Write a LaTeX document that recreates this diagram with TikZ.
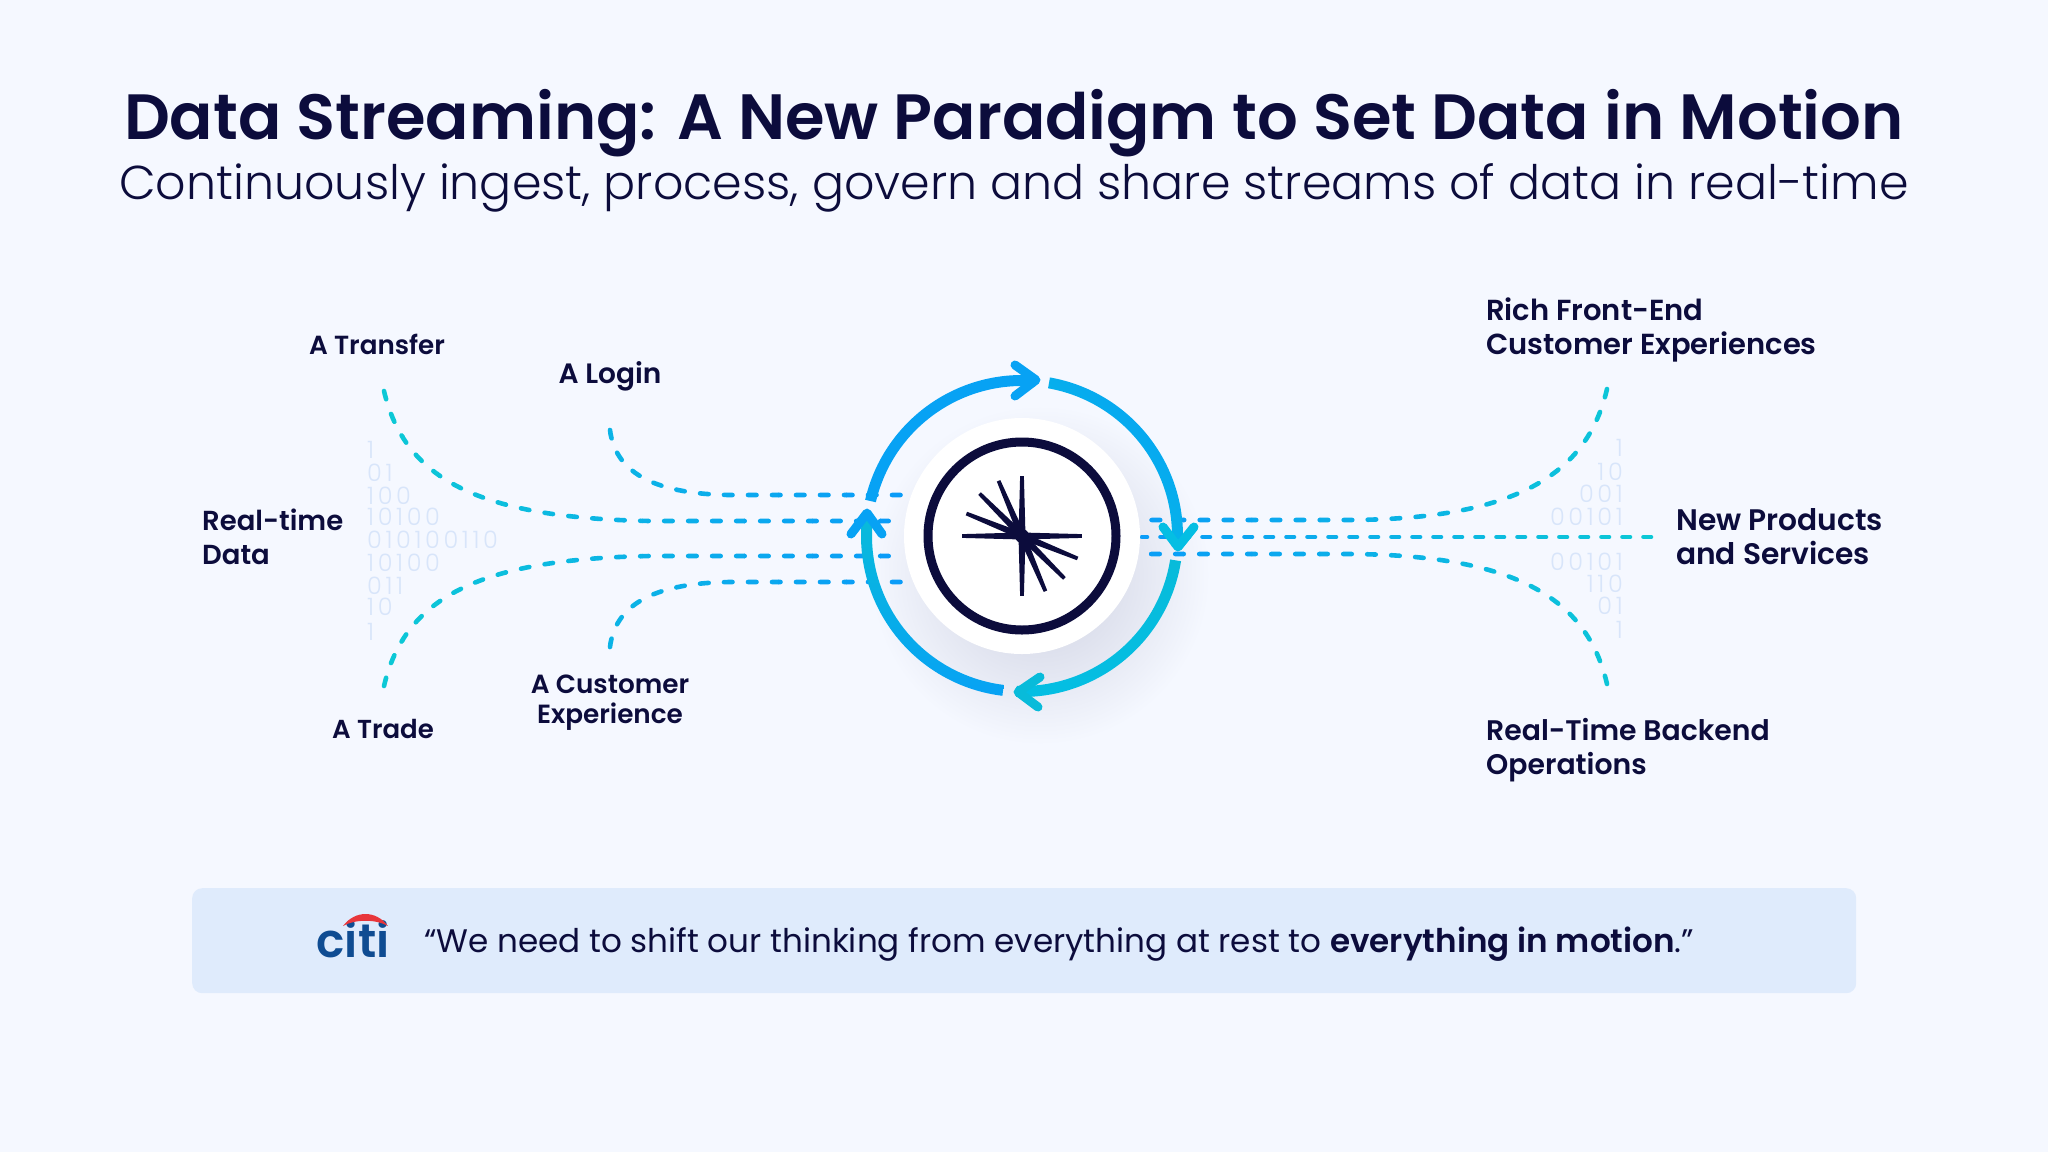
\documentclass[tikz,border=0pt]{standalone}
\usepackage{fontspec}
\setmainfont{Poppins}[BoldFont={Poppins SemiBold}]
\newfontfamily\lightfont{Poppins Light}
\newfontfamily\semifont{Poppins SemiBold}
\newfontfamily\bitfont{Poppins Light}[LetterSpace=15]
\usetikzlibrary{positioning}
\usetikzlibrary{calc}
\definecolor{pagebg}{HTML}{F5F8FF}
\definecolor{ink}{HTML}{0C0C3C}
\definecolor{quotebg}{HTML}{DFEBFC}
\definecolor{bitcol}{HTML}{D8E5FA}
\definecolor{flowblue}{HTML}{0A9CF8}
\definecolor{flowcyan}{HTML}{0CC8D6}
\definecolor{ringa}{HTML}{07A2F4}
\definecolor{ringb}{HTML}{04BEE3}
\definecolor{ringc}{HTML}{08BBDA}
\definecolor{shadowcol}{HTML}{CBCEDF}
\definecolor{citiblue}{HTML}{0F4C92}
\definecolor{citired}{HTML}{E8363B}
\tikzset{
  lbl/.style={text=ink, inner sep=0pt, font=\semifont\fontsize{#1}{34}\selectfont},
  bit/.style={text=bitcol, inner sep=0pt, font=\bitfont\fontsize{24}{24}\selectfont},
  flow/.style={line width=4.6pt, line cap=round, dash pattern=on 8.5pt off 15.5pt},
  midflow/.style={line width=4.6pt, line cap=round, dash pattern=on 7.5pt off 13.5pt},
  chev/.style={line width=9pt, line cap=round, line join=round},
}
% annular piece of the ring: start, end, first colour, second colour, shading angle
\newcommand{\ringarc}[5]{
  \shade[shift={(hub)}, left color=#3, right color=#4, shading angle=#5]
    (#1:161) arc[start angle=#1, end angle=#2, radius=161]
    -- (#2:150) arc[start angle=#2, end angle=#1, radius=150] -- cycle;
}
\newcommand{\leftstreams}{
  \draw[flow] (transferA) .. controls (405,480) and (480,518) .. (650,521) -- (transferB);
  \draw[flow] (tradeA) .. controls (405,597) and (480,559) .. (650,556) -- (tradeB);
  \draw[flow] (loginA) .. controls (615,470) and (650,494) .. (730,495) -- (loginB);
  \draw[flow] (custA) .. controls (615,607) and (650,583) .. (730,582) -- (custB);
}
\newcommand{\rightstreams}{
  \draw[flow] (richA) .. controls (1587,475) and (1515,519) .. (1350,520) -- (richB);
  \draw[flow] (backA) .. controls (1587,598) and (1515,555) .. (1350,554) -- (backB);
  \draw[midflow] (prodA) -- (prodB);
}
\begin{document}
\begin{tikzpicture}[x=1pt, y=-1pt]
  \fill[pagebg] (0,0) rectangle (2048,1152);
  \useasboundingbox (0,0) rectangle (2048,1152);

  \node[text=ink, font=\semifont\fontsize{64}{64}\selectfont] (title) at (1014,123) {Data Streaming: A New Paradigm to Set Data in Motion};
  \node[text=ink, font=\lightfont\fontsize{47.5}{48}\selectfont] (subtitle) at (1014,187.5) {Continuously ingest, process, govern and share streams of data in real-time};

  \coordinate (hub) at (1022,536);
  \coordinate (transferA) at (384,391);
  \coordinate (transferB) at (895,521);
  \coordinate (tradeA) at (384,686);
  \coordinate (tradeB) at (895,556);
  \coordinate (loginA) at (610,430);
  \coordinate (loginB) at (905,495);
  \coordinate (custA) at (610,647);
  \coordinate (custB) at (905,582);
  \coordinate (richA) at (1607,389);
  \coordinate (richB) at (1145,520);
  \coordinate (backA) at (1607,684);
  \coordinate (backB) at (1145,554);
  \coordinate (prodA) at (1651,537);
  \coordinate (prodB) at (1142,537);

  % binary digits behind the streams
  \foreach \bits/\ypos in {1/450, 01/473, 100/496, 10100/517, 010100110/540, 10100/563, 011/586, 10/607, 1/632}
    \node[bit, anchor=west] (bitl\ypos) at (367,\ypos) {\bits};
  \foreach \bits/\ypos in {1/448, 10/472, 001/494, 00101/517, 00101/562, 110/584, 01/606, 1/630}
    \node[bit, anchor=east] (bitr\ypos) at (1623,\ypos) {\bits};

  % soft shadow of the disc
  \shade[inner color=shadowcol, outer color=pagebg] (1040,575) circle (170);

  % streams, coloured band by band
  \foreach \i in {0,...,15} {
    \pgfmathsetmacro{\pct}{\i*100/15}
    \colorlet{bandcol}{flowblue!\pct!flowcyan}
    \begin{scope}[color=bandcol]
      \clip ({370+34*\i},300) rectangle ({370+34*(\i+1)+0.5},800);
      \leftstreams
    \end{scope}
    \begin{scope}[color=bandcol]
      \clip ({1660-34*(\i+1)-0.5},300) rectangle ({1660-34*\i},800);
      \rightstreams
    \end{scope}
  }

  % disc and logo
  \node[circle, fill=white, minimum size=236pt, inner sep=0pt] (disc) at (hub) {};
  \node[circle, draw=ink, line width=9pt, minimum size=188pt, inner sep=0pt] (logo) at (hub) {};
  \foreach \a in {0,90,180,270,22,45,67,202,225,247}
    \fill[ink, shift={(hub)}] (\a-90:3.5) -- (\a-1.8:60) -- (\a+1.8:60) -- (\a+90:3.5) -- cycle;
  \fill[ink] (hub) circle (7);

  % ring with arrows
  \ringarc{193}{275}{ringa}{ringa}{0}
  \ringarc{280}{364}{ringa}{ringb}{-45}
  \ringarc{9}{92}{ringc}{ringb}{0}
  \ringarc{97}{188}{ringc}{ringa}{0}
  \draw[chev, ringa] (1015,365) -- (1036,380) -- (1015,396);
  \draw[chev, ringb] (1163,527) -- (1178,547) -- (1194,527);
  \draw[chev, ringc] (1040,677) -- (1018,692) -- (1038,707);
  \draw[chev, ringa] (851,534) -- (867,513) -- (882,534);

  % labels
  \node[lbl=26.2] (transfer) at (377,344) {A Transfer};
  \node[lbl=28] (login) at (610,376.5) {A Login};
  \node[lbl=27.5, anchor=west, align=left] (realtime) at (202,537) {Real-time\\Data};
  \node[lbl=26] (trade) at (383,729) {A Trade};
  \node[lbl=26.3, align=center] (customer) at (610,703) {A Customer\\[-4pt]Experience};
  \node[lbl=29, anchor=west, align=left] (rich) at (1486,329.5) {Rich Front-End\\Customer Experiences};
  \node[lbl=29.7, anchor=west, align=left] (products) at (1676,537) {New Products\\and Services};
  \node[lbl=28.3, anchor=west, align=left] (backend) at (1486,750.5) {Real-Time Backend\\Operations};

  % quote
  \node[fill=quotebg, rounded corners=10pt, minimum width=1664pt, minimum height=105pt, anchor=north west, inner sep=0pt] (quotebox) at (192,888) {};
  \node[text=ink, anchor=west, inner sep=0pt, font=\fontsize{32.6}{33}\selectfont] (quote) at (424,944) {“We need to shift our thinking from everything at rest to \textbf{everything in motion}.”};
  \node[text=citiblue, anchor=base, inner sep=0pt, font=\semifont\fontsize{47}{47}\selectfont] (citi) at (353,957) {citi};
  \fill[citired] (343,926) .. controls (355,910) and (376,910) .. (388,926) .. controls (376,919) and (355,919) .. (343,926);
\end{tikzpicture}
\end{document}
